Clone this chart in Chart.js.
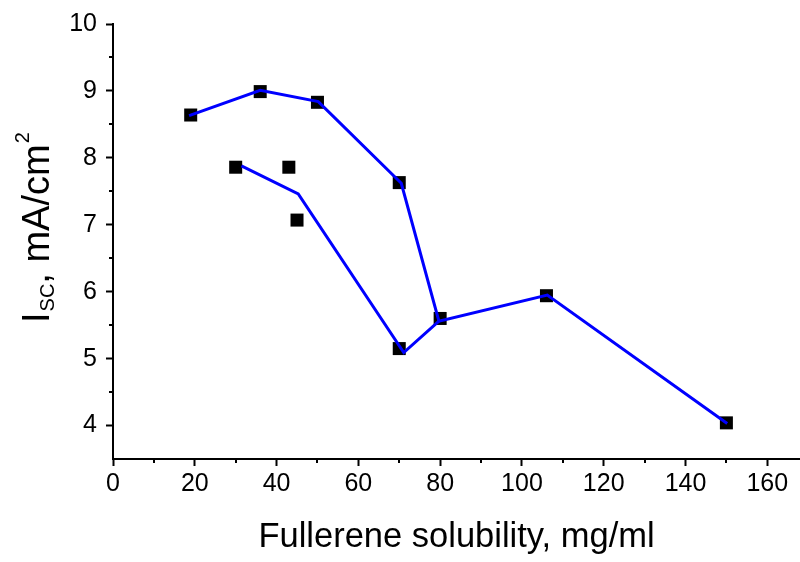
<!DOCTYPE html>
<html>
<head>
<meta charset="utf-8">
<script src="https://cdn.jsdelivr.net/npm/chart.js@4"></script>
<style>
html,body{margin:0;padding:0;background:#fff;}
#c{display:block;}
</style>
</head>
<body>
<canvas id="c" width="800" height="562"></canvas>
<script>
// Measured points
const solubility = [19, 36, 50, 70, 80, 106, 150, 30, 43, 45, 70];
const iscValues  = [8.64, 8.99, 8.83, 7.63, 5.6, 5.94, 4.04, 7.86, 7.86, 7.07, 5.15];
// Guide lines
const lineAX = [18.6, 36, 50.2, 70.5, 79.7, 106.2, 150.2];
const lineAY = [8.63, 9.01, 8.84, 7.62, 5.56, 5.95, 4.03];
const lineBX = [31.4, 45.3, 71.1, 79.7];
const lineBY = [7.88, 7.46, 5.09, 5.56];
// Axis ticks
const xTickValues = [0, 20, 40, 60, 80, 100, 120, 140, 160];
const xMinorValues = [10, 30, 50, 70, 90, 110, 130, 150];
const yTickValues = [4, 5, 6, 7, 8, 9, 10];
const yMinorValues = [4.5, 5.5, 6.5, 7.5, 8.5, 9.5];
const xTitle = 'Fullerene solubility, mg/ml';
const yTitleParts = ['I', 'SC', ', mA/cm', '2'];

const FONT = '"Liberation Sans", Arial, Helvetica, sans-serif';
const toXY = (xs, ys) => xs.map((x, i) => ({x: x, y: ys[i]}));

const minorTicks = {
  id: 'minorTicks',
  afterDraw(chart) {
    const ctx = chart.ctx, xs = chart.scales.x, ys = chart.scales.y;
    ctx.save();
    ctx.strokeStyle = '#000';
    ctx.lineWidth = 2;
    ctx.beginPath();
    xMinorValues.forEach(v => {
      const px = Math.round(xs.getPixelForValue(v));
      ctx.moveTo(px, xs.top); ctx.lineTo(px, xs.top + 4);
    });
    yMinorValues.forEach(v => {
      const py = Math.round(ys.getPixelForValue(v));
      ctx.moveTo(ys.right, py); ctx.lineTo(ys.right - 4, py);
    });
    ctx.stroke();
    // Y title with subscript/superscript
    ctx.fillStyle = '#000';
    ctx.translate(49, 323);
    ctx.rotate(-Math.PI / 2);
    ctx.textBaseline = 'alphabetic';
    ctx.textAlign = 'left';
    let x = 0;
    ctx.font = '38px ' + FONT;
    ctx.fillText(yTitleParts[0], x, 0); x += ctx.measureText(yTitleParts[0]).width + 1;
    ctx.font = '20px ' + FONT;
    ctx.fillText(yTitleParts[1], x, 5); x += ctx.measureText(yTitleParts[1]).width;
    ctx.font = '38px ' + FONT;
    ctx.fillText(yTitleParts[2], x, 0); x += ctx.measureText(yTitleParts[2]).width + 1;
    ctx.font = '20px ' + FONT;
    ctx.fillText(yTitleParts[3], x, -20);
    ctx.restore();
  }
};

new Chart(document.getElementById('c'), {
  type: 'scatter',
  data: {
    datasets: [
      { data: toXY(lineAX, lineAY), showLine: true, borderColor: '#0000ff', borderWidth: 3, pointRadius: 0, order: 0, fill: false },
      { data: toXY(lineBX, lineBY), showLine: true, borderColor: '#0000ff', borderWidth: 3, pointRadius: 0, order: 0, fill: false },
      { data: toXY(solubility, iscValues), showLine: false, pointStyle: 'rect', pointRadius: 9.2, backgroundColor: '#000', borderWidth: 0, order: 1 }
    ]
  },
  options: {
    responsive: false,
    animation: false,
    devicePixelRatio: 1,
    layout: { autoPadding: false, padding: { top: 24, right: 0, left: 0, bottom: 0 } },
    plugins: { legend: { display: false }, tooltip: { enabled: false } },
    scales: {
      x: {
        type: 'linear', min: 0, max: 168,
        afterBuildTicks: s => { s.ticks = xTickValues.map(v => ({value: v})); },
        afterFit: s => { s.height = 103; s.paddingRight = 0; s.paddingLeft = 0; },
        ticks: { font: { family: FONT, size: 25 }, color: '#000', padding: 3, maxRotation: 0, autoSkip: false },
        grid: { drawOnChartArea: false, tickLength: 7, tickColor: '#000', tickWidth: 2 },
        border: { display: true, color: '#000', width: 2 },
        title: { display: true, text: xTitle, font: { family: FONT, size: 34.5 }, color: '#000', padding: { top: 13 } }
      },
      y: {
        type: 'linear', min: 3.5, max: 10,
        afterBuildTicks: s => { s.ticks = yTickValues.map(v => ({value: v})); },
        afterFit: s => { s.width = 113; },
        ticks: { font: { family: FONT, size: 25 }, color: '#000', padding: 9, autoSkip: false },
        grid: { drawOnChartArea: false, tickLength: 7, tickColor: '#000', tickWidth: 2 },
        border: { display: true, color: '#000', width: 2 }
      }
    }
  },
  plugins: [minorTicks]
});
</script>
</body>
</html>
